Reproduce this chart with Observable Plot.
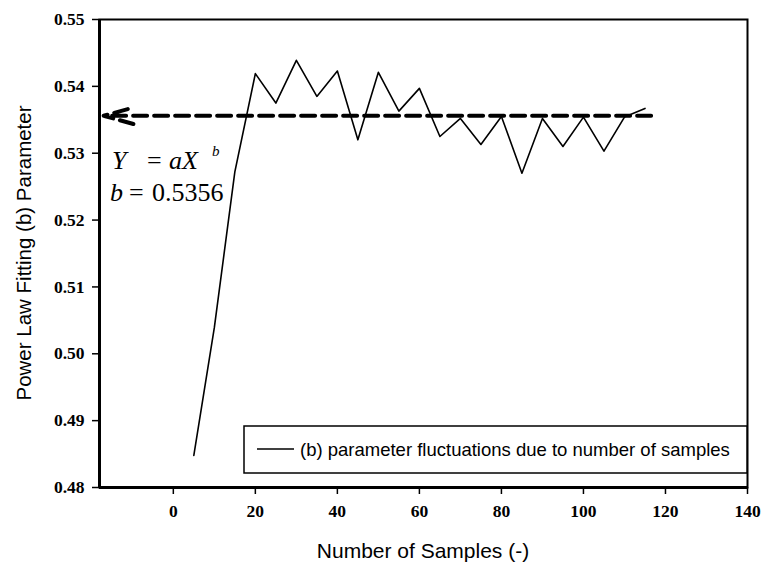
<!DOCTYPE html>
<html><head><meta charset="utf-8">
<script src="https://cdn.jsdelivr.net/npm/d3@7"></script>
<script src="https://cdn.jsdelivr.net/npm/@observablehq/plot@0.6"></script>
<style>
body{margin:0;background:#fff;}
#chart{position:relative;width:764px;height:563px;}
</style></head><body><div id="chart"></div>
<script>
// ---- data ----
const samples = [5,10,15,20,25,30,35,40,45,50,55,60,65,70,75,80,85,90,95,100,105,110,115];
const bParam  = [0.4848,0.5039,0.5272,0.5419,0.5375,0.5439,0.5385,0.5423,0.5320,0.5421,0.5363,0.5397,0.5325,0.5352,0.5313,0.5355,0.5270,0.5352,0.5310,0.5354,0.5303,0.5354,0.5367];
const fittedB = 0.5356;
const fitLineX = [116.5, -17];
const xTicks = [0,20,40,60,80,100,120,140];
const yTicks = [0.48,0.49,0.50,0.51,0.52,0.53,0.54,0.55];
const legendLabel = "(b) parameter fluctuations due to number of samples";
const xTitle = "Number of Samples (-)";
const yTitle = "Power Law Fitting (b) Parameter";

const series = samples.map((n, i) => ({n, b: bParam[i]}));
const fitArrow = [{x1: fitLineX[0], x2: fitLineX[1], y: fittedB}];

const plot = Plot.plot({
  width: 764, height: 563,
  marginLeft: 99, marginRight: 17, marginTop: 19, marginBottom: 76,
  x: {domain: [-18, 140]},
  y: {domain: [0.48, 0.55]},
  style: {background: "white", color: "black", fontFamily: "'Liberation Serif', 'Times New Roman', serif", fontWeight: "bold", fontSize: "17.5px"},
  marks: [
    Plot.axisX(xTicks, {tickSize: 7, tickPadding: 10, tickFormat: d => String(d), label: null, strokeWidth: 1.5}),
    Plot.axisY(yTicks, {tickSize: 7, tickPadding: 8, tickFormat: d3.format(".2f"), label: null, strokeWidth: 1.5}),
    Plot.frame({stroke: "black", strokeWidth: 2}),
    Plot.ruleX([-18], {stroke: "black", strokeWidth: 3}),
    Plot.ruleY([0.48], {stroke: "black", strokeWidth: 3}),
    Plot.line(series, {x: "n", y: "b", stroke: "black", strokeWidth: 1.6}),
    Plot.arrow(fitArrow, {x1: "x1", x2: "x2", y1: "y", y2: "y", stroke: "black", strokeWidth: 4,
      strokeDasharray: "14,7", headLength: 11.6, headAngle: 31, insetStart: 0, insetEnd: 0})
  ]
});
document.getElementById("chart").appendChild(plot);

(function () {
  const xs = plot.scale("x"), ys = plot.scale("y");
  const svg = d3.select(plot);
  const pLeft = xs.range[0], pRight = xs.range[1], pTop = ys.range[1], pBottom = ys.range[0];
  const yFit = ys.apply(fittedB);
  const serif = "'Liberation Serif', 'Times New Roman', serif";
  const sans = "'Liberation Sans', Arial, sans-serif";

  // equation annotation
  const eq = svg.append("g").attr("font-family", serif).attr("font-weight", "normal").attr("font-size", 26)
    .attr("fill", "black").attr("text-anchor", "start");
  eq.append("text").attr("x", pLeft + 13).attr("y", yFit + 54).attr("font-style", "italic").text("Y");
  eq.append("text").attr("x", pLeft + 48).attr("y", yFit + 54).text("=");
  eq.append("text").attr("x", pLeft + 70).attr("y", yFit + 54).attr("font-style", "italic").text("aX");
  eq.append("text").attr("x", pLeft + 113).attr("y", yFit + 41).attr("font-style", "italic").attr("font-size", 15).text("b");
  eq.append("text").attr("x", pLeft + 11).attr("y", yFit + 86).attr("font-style", "italic").text("b");
  eq.append("text").attr("x", pLeft + 30).attr("y", yFit + 86).text("=");
  eq.append("text").attr("x", pLeft + 53).attr("y", yFit + 86).text(String(fittedB));

  // legend
  const lg = svg.append("g").attr("text-anchor", "start");
  lg.append("rect").attr("x", 244).attr("y", 426).attr("width", pRight - 244).attr("height", 47)
    .attr("fill", "white").attr("stroke", "black").attr("stroke-width", 1.5);
  lg.append("line").attr("x1", 257).attr("x2", 294).attr("y1", 449).attr("y2", 449).attr("stroke", "black").attr("stroke-width", 1.5);
  lg.append("text").attr("x", 300).attr("y", 455.5).attr("font-family", sans).attr("font-weight", "normal")
    .attr("font-size", 18.5).attr("fill", "black").text(legendLabel);

  // axis titles
  svg.append("text").attr("x", (pLeft + pRight) / 2).attr("y", 558).attr("text-anchor", "middle")
    .attr("font-family", sans).attr("font-weight", "normal").attr("font-size", 21).text(xTitle);
  svg.append("text").attr("transform", `translate(31,${(pTop + pBottom) / 2}) rotate(-90)`).attr("text-anchor", "middle")
    .attr("font-family", sans).attr("font-weight", "normal").attr("font-size", 20.5).text(yTitle);
})();
</script></body></html>
